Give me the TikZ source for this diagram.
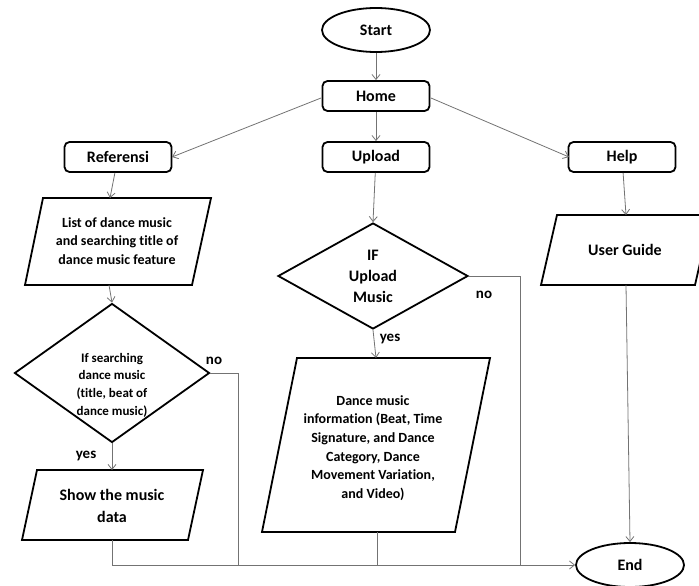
\documentclass[tikz,border=0pt]{standalone}
\usepackage{fontspec}
\setmainfont{Carlito}[Ligatures=NoCommon]
\usetikzlibrary{shapes.geometric,arrows.meta}
\definecolor{lineg}{RGB}{115,115,115}
\begin{document}
\begin{tikzpicture}[x=1pt,y=-1pt,
 shp/.style={draw=black,line width=1.8pt},
 term/.style={shp,ellipse,minimum width=108pt,minimum height=44pt,inner sep=0pt,font=\bfseries\fontsize{16}{19}\selectfont},
 proc/.style={shp,rounded corners=5pt,minimum width=107pt,minimum height=30pt,inner sep=0pt,font=\bfseries\fontsize{16}{19}\selectfont},
 txt/.style={align=center,inner sep=0pt,font=\bfseries\fontsize{14}{18.7}\selectfont},
 bigtxt/.style={align=center,inner sep=0pt,font=\bfseries\fontsize{16}{21}\selectfont},
 dec/.style={shp,diamond,inner sep=0pt},
 con/.style={draw=lineg,line width=0.8pt},
 arr/.style={con,-{Straight Barb[length=5pt,width=8pt]}},
 lab/.style={inner sep=0pt,font=\bfseries\fontsize{15}{18}\selectfont}
]
\useasboundingbox (0,0) rectangle (699,586);

% terminals and processes
\node[term] (start) at (376,30) {Start};
\node[proc] (home) at (376,96) {Home};
\node[proc] (ref) at (118,157) {Referensi};
\node[proc] (upl) at (376,157) {Upload};
\node[proc] (help) at (622,157) {Help};
\node[term] (end) at (630,565) {End};

% parallelogram: list
\coordinate (lstT) at (110,198);
\coordinate (lstB) at (109,285);
\draw[shp] (43,198) -- (211,198) -- (192,285) -- (25,285) -- cycle;
\node[txt] (lst) at (117,241) {List of dance music\\and searching title of\\dance music feature};

% decision 1
\node[dec,minimum width=195pt,minimum height=139pt] (d1) at (112,373) {};
\node[txt,font=\bfseries\fontsize{13}{17.7}\selectfont] (d1t) at (112,385) {If searching\\dance music\\(title, beat of\\dance music)};
\node[lab] (no1) at (214,361) {no};
\node[lab] (yes1) at (86,456) {yes};

% show data
\coordinate (shwT) at (112,470);
\coordinate (shwB) at (112,540);
\draw[shp] (37,470) -- (203,470) -- (188,540) -- (22,540) -- cycle;
\node[bigtxt,font=\bfseries\fontsize{16}{22}\selectfont] (shw) at (112,506) {Show the music\\data};

% decision 2
\node[dec,minimum width=190pt,minimum height=106pt,bigtxt] (d2) at (373,276) {IF\\Upload\\Music};
\node[lab] (no2) at (484,295) {no};
\node[lab] (yes2) at (390,339) {yes};

% dance info
\coordinate (danT) at (376,358);
\coordinate (danB) at (377,532);
\draw[shp] (297,358) -- (490,358) -- (455,532) -- (262,532) -- cycle;
\node[txt] (dan) at (373,448) {Dance music\\information (Beat, Time\\Signature, and Dance\\Category, Dance\\Movement Variation,\\and Video)};

% user guide
\coordinate (ugT) at (626,215);
\coordinate (ugB) at (626,285);
\draw[shp] (557,215) -- (711,215) -- (695,285) -- (541,285) -- cycle;
\node[bigtxt] (ug) at (625,250) {User Guide};

% connectors
\coordinate (homeL) at (321,98);
\coordinate (homeR) at (431,98);
\coordinate (refC) at (172,157);
\coordinate (helpC) at (569,157);
\draw[arr] (start) -- (home);
\draw[arr] (home) -- (upl);
\draw[arr] (homeL) -- (refC);
\draw[arr] (homeR) -- (helpC);
\draw[arr] (ref) -- (lstT);
\draw[arr] (lstB) -- (d1.north);
\draw[arr] (d1.south) -- (shwT);
\draw[arr] (upl) -- (d2.north);
\draw[arr] (d2.south) -- (danT);
\draw[arr] (help) -- (ugT);
\draw[arr] (ugB) -- (end.north);

\coordinate (j1) at (238,565);
\coordinate (j2) at (520,565);
\coordinate (j3) at (377,565);
\draw[con] (d1.east) -| (j1);
\draw[con] (d2.east) -| (j2);
\draw[con] (danB) -- (j3);
\draw[arr] (shwB) |- (end.west);
\end{tikzpicture}
\end{document}
